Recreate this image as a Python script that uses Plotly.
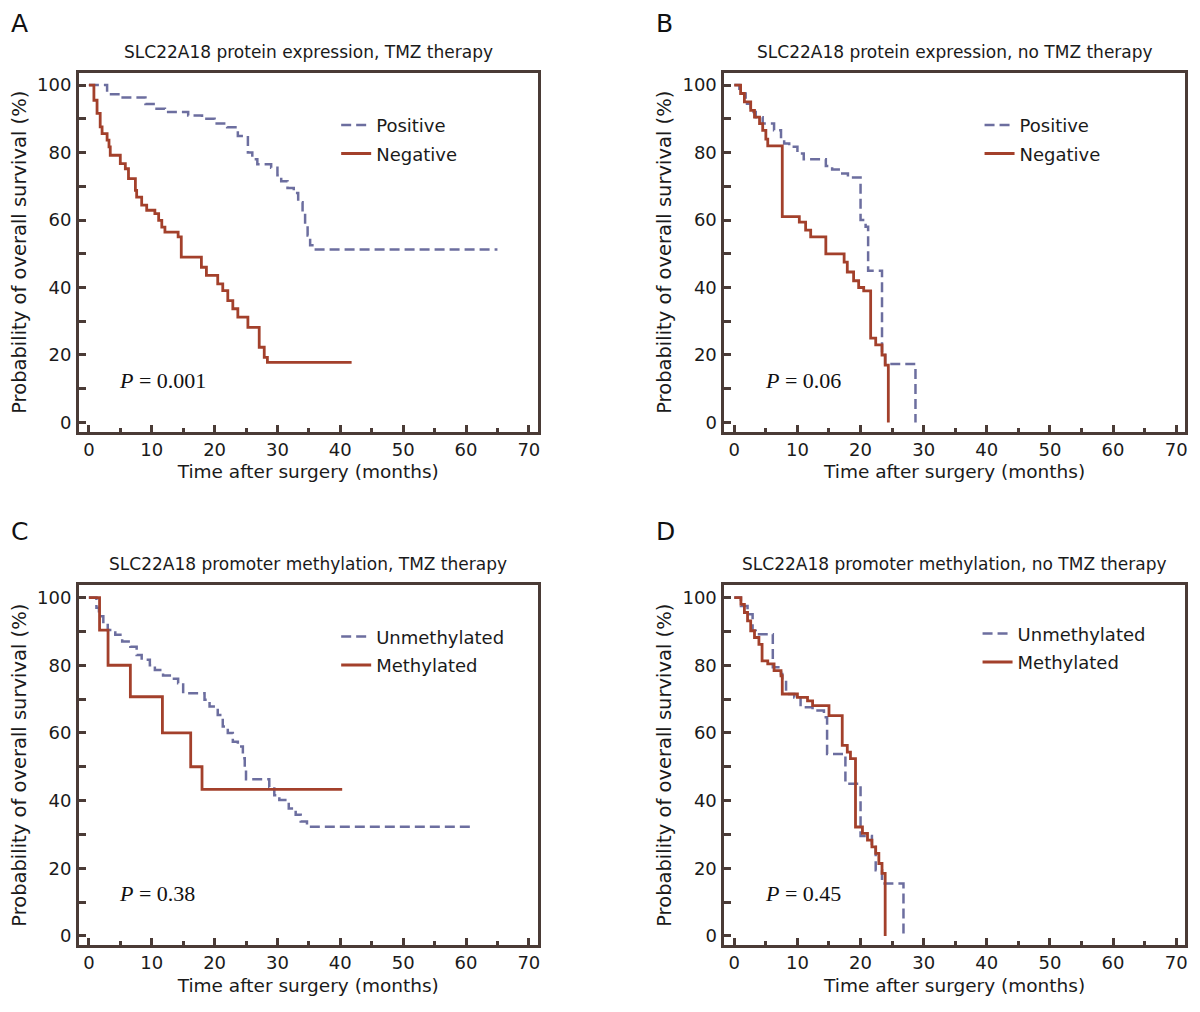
import plotly.graph_objects as go

# ---- data (months, % surviving) ----
# A: protein expression, TMZ therapy
a_pos_t = [0, 2.9, 4.7, 9.0, 10.3, 12.1, 15.8, 18.0, 20.0, 22.0, 23.7, 25.3, 26.0, 26.8,
           29.0, 30.0, 30.6, 31.6, 32.6, 33.3, 34.0, 34.4, 34.8, 35.2, 35.8]
a_pos_s = [100, 97.3, 96.3, 94.4, 93.0, 92.0, 91.0, 90.0, 88.6, 87.5, 84.9, 80.0, 78.0, 76.5,
           75.5, 73.3, 71.5, 69.5, 68.0, 65.3, 62.4, 58.4, 55.4, 52.5, 51.3]
a_pos_end = 65.0
a_neg_t = [0, 0.8, 1.3, 1.8, 2.1, 2.9, 3.2, 3.4, 5.0, 5.8, 6.3, 7.4, 7.6, 8.4, 9.2, 10.5,
           11.1, 11.6, 12.1, 14.2, 14.7, 17.9, 18.7, 20.5, 21.3, 22.1, 22.9, 23.7, 25.3,
           27.1, 27.9, 28.4]
a_neg_s = [100, 95.5, 91.6, 87.6, 85.6, 83.7, 81.7, 79.2, 76.7, 75.2, 72.3, 68.8, 66.8, 64.4,
           62.9, 61.9, 59.9, 57.9, 56.4, 55.0, 49.0, 46.0, 43.6, 41.1, 39.1, 36.1, 33.7, 31.2,
           28.2, 22.3, 19.3, 17.8]
a_neg_end = 41.8

# B: protein expression, no TMZ therapy
b_pos_t = [0, 0.8, 1.8, 2.6, 3.4, 4.5, 6.3, 7.4, 7.9, 8.7, 10.0, 11.0, 14.5, 15.5, 17.1,
           18.0, 20.0, 20.8, 21.2, 23.4, 23.9, 28.7]
b_pos_s = [100, 97.5, 94.5, 92.0, 90.5, 88.6, 86.6, 84.0, 82.7, 81.7, 79.7, 78.0, 76.0, 75.0,
           73.8, 72.6, 60.0, 58.0, 45.0, 20.0, 17.3, 0]
b_pos_end = 28.7
b_neg_t = [0, 1.0, 1.6, 2.6, 3.2, 4.0, 4.5, 5.0, 5.3, 7.6, 10.3, 11.3, 12.1, 14.5, 17.4,
           17.9, 18.9, 19.7, 20.5, 21.6, 22.4, 23.4, 23.9, 24.4]
b_neg_s = [100, 97.5, 95.0, 92.5, 90.5, 88.6, 86.6, 84.0, 82.0, 61.0, 59.4, 57.0, 55.0, 50.0,
           47.5, 44.6, 42.0, 40.0, 39.0, 25.0, 23.0, 20.0, 17.0, 0]
b_neg_end = 24.4

# C: promoter methylation, TMZ therapy
c_unm_t = [0, 1.2, 1.6, 2.3, 3.0, 4.2, 5.3, 6.6, 7.6, 8.4, 9.7, 10.5, 11.8, 13.2, 14.2,
           15.0, 18.4, 19.2, 20.5, 21.3, 22.1, 22.9, 23.7, 24.5, 24.8, 25.0, 28.7, 29.5,
           30.3, 31.8, 32.9, 33.7, 34.7]
c_unm_s = [100, 97.0, 94.5, 92.4, 90.4, 89.0, 87.0, 85.5, 83.0, 81.6, 80.0, 78.6, 77.0, 76.0,
           74.7, 71.7, 69.8, 67.8, 65.3, 61.9, 60.0, 57.4, 56.0, 52.5, 49.0, 46.3, 44.0, 41.6,
           40.2, 37.7, 35.8, 33.8, 32.3]
c_unm_end = 61.3
c_met_t = [0, 1.7, 3.05, 6.6, 11.7, 16.2, 18.0]
c_met_s = [100, 90.4, 80.0, 70.7, 60.0, 50.0, 43.3]
c_met_end = 40.3

# D: promoter methylation, no TMZ therapy
d_unm_t = [0, 1.05, 2.1, 2.9, 3.4, 6.1, 7.4, 7.6, 8.2, 9.5, 10.5, 12.4, 14.2, 14.7, 17.6,
           20.0, 21.8, 22.4, 23.4, 26.8]
d_unm_s = [100, 97.5, 95.1, 90.2, 89.2, 79.4, 77.4, 75.4, 71.5, 70.5, 67.6, 66.6, 64.6, 53.8,
           45.0, 29.5, 26.3, 19.4, 15.5, 0]
d_unm_end = 26.8
d_met_t = [0, 1.05, 1.6, 2.1, 2.6, 3.2, 3.9, 4.4, 5.3, 6.3, 7.4, 7.6, 10.0, 11.6, 12.4, 15.0,
           17.1, 17.9, 18.4, 19.2, 20.3, 21.1, 21.8, 22.4, 22.9, 23.4, 23.9]
d_met_s = [100, 98.0, 95.6, 93.1, 90.2, 88.2, 86.2, 81.3, 80.4, 78.4, 76.9, 71.5, 70.5, 69.5,
           68.1, 65.1, 56.3, 54.3, 52.4, 32.2, 30.3, 28.3, 26.3, 24.4, 21.4, 18.5, 0]
d_met_end = 23.9

panel_letters = ["A", "B", "C", "D"]
panel_titles = [
    "SLC22A18 protein expression, TMZ therapy",
    "SLC22A18 protein expression, no TMZ therapy",
    "SLC22A18 promoter methylation, TMZ therapy",
    "SLC22A18 promoter methylation, no TMZ therapy",
]
p_values = ["0.001", "0.06", "0.38", "0.45"]
legend_names = [("Positive", "Negative"), ("Positive", "Negative"),
                ("Unmethylated", "Methylated"), ("Unmethylated", "Methylated")]

curves = [
    ((a_pos_t, a_pos_s, a_pos_end), (a_neg_t, a_neg_s, a_neg_end)),
    ((b_pos_t, b_pos_s, b_pos_end), (b_neg_t, b_neg_s, b_neg_end)),
    ((c_unm_t, c_unm_s, c_unm_end), (c_met_t, c_met_s, c_met_end)),
    ((d_unm_t, d_unm_s, d_unm_end), (d_met_t, d_met_s, d_met_end)),
]

# the page body adds an 8px margin, so the figure is drawn 8px smaller
# and every pixel position below is shifted back by OFF
OFF = 8
W, H = 1200 - OFF, 1012 - OFF
BLUE = "#6c6e9f"
RED = "#a3402b"
FRAME = "#4a3b36"
FONT = "DejaVu Sans"

# plot boxes in screen pixels: (left, right, top, bottom)
boxes = [(79, 539, 73, 432), (726, 1188, 73, 432),
         (79, 539, 586, 946), (726, 1188, 586, 946)]
legend_px = [(337, 107), (982, 107), (337, 619), (980, 616)]
# top edge of the panel letter boxes, screen pixels
letter_top = [8, 8, 517, 517]


def step_xy(t, s, end):
    return list(t) + [end], list(s) + [s[-1]]


def px(v):
    return v - OFF


fig = go.Figure()
layout = dict(
    width=W, height=H,
    margin=dict(l=0, r=0, t=0, b=0),
    paper_bgcolor="white", plot_bgcolor="white",
    font=dict(family=FONT, size=18, color="#1a1a1a"),
    annotations=[],
)

for i in range(4):
    n = "" if i == 0 else str(i + 1)
    xa, ya = "x" + n, "y" + n
    leg = "legend" + n
    (up_t, up_s, up_end), (dn_t, dn_s, dn_end) = curves[i]
    name_up, name_dn = legend_names[i]

    x, y = step_xy(up_t, up_s, up_end)
    fig.add_trace(go.Scatter(
        x=x, y=y, mode="lines", name=name_up, xaxis=xa, yaxis=ya,
        line=dict(color=BLUE, width=2.5, dash="10px,5px", shape="hv"),
        legend=leg, legendgroup=f"{i}up",
    ))
    x, y = step_xy(dn_t, dn_s, dn_end)
    fig.add_trace(go.Scatter(
        x=x, y=y, mode="lines", name=name_dn, xaxis=xa, yaxis=ya,
        line=dict(color=RED, width=2.8, shape="hv"),
        legend=leg, legendgroup=f"{i}dn",
    ))

    l, r, t, b = [px(v) for v in boxes[i]]
    axis_common = dict(
        showline=True, mirror=True, linecolor=FRAME, linewidth=2.5,
        showgrid=False, zeroline=False, ticks="inside", tickcolor=FRAME,
        tickwidth=2.5, ticklen=7, tickfont=dict(size=18, family=FONT),
    )
    layout["xaxis" + n] = dict(
        axis_common, domain=[l / W, r / W], anchor=ya,
        range=[-1.6, 71.4], tick0=0, dtick=10, ticklabelstandoff=0,
        minor=dict(dtick=5, ticks="inside", ticklen=4, tickwidth=2.5, tickcolor=FRAME),
        title=dict(text="Time after surgery (months)", standoff=7,
                   font=dict(size=18.5, family=FONT)),
    )
    layout["yaxis" + n] = dict(
        axis_common, domain=[1 - b / H, 1 - t / H], anchor=xa,
        range=[-2.7, 103.6], tick0=0, dtick=20, ticklabelstandoff=1,
        minor=dict(dtick=10, ticks="inside", ticklen=7, tickwidth=2.5, tickcolor=FRAME),
        title=dict(text="Probability of overall survival (%)", standoff=6,
                   font=dict(size=19.5, family=FONT)),
    )

    lx, ly = legend_px[i]
    layout[leg] = dict(
        x=px(lx) / W, y=1 - px(ly) / H, xanchor="left", yanchor="top",
        bgcolor="rgba(0,0,0,0)", font=dict(size=18, family=FONT),
        tracegroupgap=2,
    )

    # panel letter (kept inside the paper so it is not clipped) and title
    layout["annotations"].append(dict(
        text=panel_letters[i], xref="paper", yref="paper",
        x=(l - 69) / W, y=1 - px(letter_top[i]) / H, xanchor="left", yanchor="top",
        borderpad=0, showarrow=False, font=dict(size=25, family=FONT, color="#111"),
    ))
    layout["annotations"].append(dict(
        text=panel_titles[i], xref="paper", yref="paper",
        x=(l + r) / 2 / W, y=1 - (t - 21) / H, xanchor="center", yanchor="middle",
        showarrow=False, font=dict(size=17, family=FONT, color="#1a1a1a"),
    ))
    # log-rank p value
    layout["annotations"].append(dict(
        text=f"<i>P</i> = {p_values[i]}", xref=xa, yref=ya,
        x=4.5, y=12.5, xanchor="left", yanchor="middle", showarrow=False,
        font=dict(size=22, family="Liberation Serif", color="#111"),
    ))

fig.update_layout(**layout)
fig.write_html("out.html")
